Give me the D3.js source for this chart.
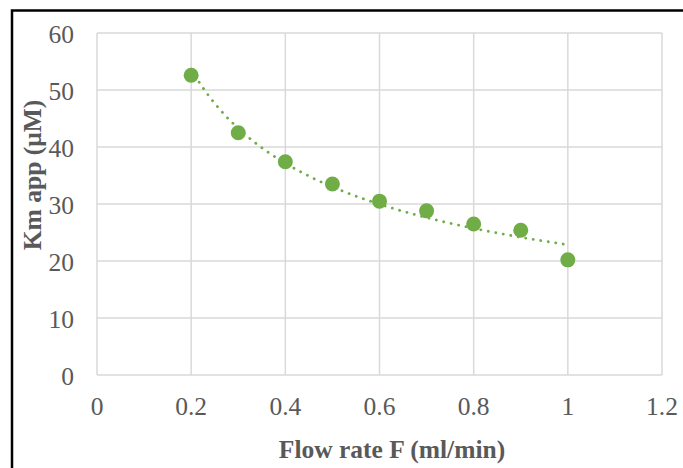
<!DOCTYPE html>
<html>
<head>
<meta charset="utf-8">
<script src="https://cdn.jsdelivr.net/npm/d3@7"></script>
<style>
  body { margin: 0; background: #fff; }
  text { font-family: "Liberation Serif", "Times New Roman", serif; }
</style>
</head>
<body>
<div id="chart"></div>
<script>
// data
var flowRate = [0.2, 0.3, 0.4, 0.5, 0.6, 0.7, 0.8, 0.9, 1.0];
var kmApp = [52.6, 42.5, 37.4, 33.5, 30.5, 28.8, 26.5, 25.4, 20.2];
var xTicks = [0, 0.2, 0.4, 0.6, 0.8, 1, 1.2];
var yTicks = [0, 10, 20, 30, 40, 50, 60];

(function(){
  var width = 683, height = 468;
  var green = "#70ad47", grey = "#595959";

  var svg = d3.select("#chart").append("svg")
    .attr("width", width)
    .attr("height", height);

  // chart frame (only top + left edges visible)
  svg.append("path")
    .attr("d", "M12,480 L12,10.5 L690,10.5")
    .attr("fill", "none")
    .attr("stroke", "#000")
    .attr("stroke-width", 2.5);

  var x = d3.scaleLinear().domain([0, 1.2]).range([97, 662]);
  var y = d3.scaleLinear().domain([0, 60]).range([375, 33]);

  // gridlines
  svg.append("g").selectAll("line.v")
    .data(xTicks).enter().append("line")
    .attr("x1", d => x(d)).attr("x2", d => x(d))
    .attr("y1", y(60)).attr("y2", y(0))
    .attr("stroke", "#d9d9d9").attr("stroke-width", 1.5);
  svg.append("g").selectAll("line.h")
    .data(yTicks).enter().append("line")
    .attr("x1", x(0)).attr("x2", x(1.2))
    .attr("y1", d => y(d)).attr("y2", d => y(d))
    .attr("stroke", "#d9d9d9").attr("stroke-width", 1.5);

  // tick labels
  svg.append("g").selectAll("text")
    .data(yTicks).enter().append("text")
    .attr("x", 74).attr("y", d => y(d) + 1.5)
    .attr("dy", "0.35em")
    .attr("text-anchor", "end")
    .attr("font-size", 25.5)
    .attr("fill", grey)
    .text(d => d);
  svg.append("g").selectAll("text")
    .data(xTicks).enter().append("text")
    .attr("x", d => x(d)).attr("y", 406)
    .attr("dy", "0.35em")
    .attr("text-anchor", "middle")
    .attr("font-size", 25.5)
    .attr("fill", grey)
    .text(d => d);

  // axis titles
  svg.append("text")
    .attr("x", 392).attr("y", 458)
    .attr("text-anchor", "middle")
    .attr("font-size", 25.5).attr("font-weight", "bold")
    .attr("fill", grey)
    .text("Flow rate F (ml/min)");
  svg.append("text")
    .attr("transform", "translate(41,175) rotate(-90)")
    .attr("text-anchor", "middle")
    .attr("font-size", 25.5).attr("font-weight", "bold")
    .attr("fill", grey)
    .text("Km app (μM)");

  // power trendline fitted to the points (least squares on logs)
  var lx = flowRate.map(Math.log), ly = kmApp.map(Math.log);
  var mx = d3.mean(lx), my = d3.mean(ly);
  var b = d3.sum(lx, (v, i) => (v - mx) * (ly[i] - my)) / d3.sum(lx, v => (v - mx) * (v - mx));
  var a = Math.exp(my - b * mx);
  var fx = d3.range(0, 81).map(i => 0.2 + i * 0.01);
  var line = d3.line().x(d => x(d)).y(d => y(a * Math.pow(d, b)));
  svg.append("path")
    .datum(fx)
    .attr("d", line)
    .attr("fill", "none")
    .attr("stroke", green)
    .attr("stroke-width", 2.8)
    .attr("stroke-linecap", "round")
    .attr("stroke-dasharray", "0.1 7.5");

  // markers
  svg.append("g").selectAll("circle")
    .data(flowRate).enter().append("circle")
    .attr("cx", d => x(d))
    .attr("cy", (d, i) => y(kmApp[i]))
    .attr("r", 7.5)
    .attr("fill", green);
})();
</script>
</body>
</html>
